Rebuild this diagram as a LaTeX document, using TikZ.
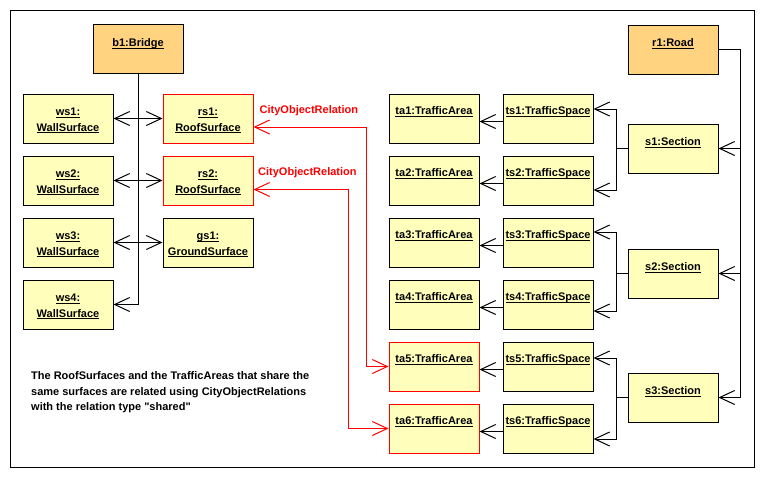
\documentclass[tikz,border=0pt]{standalone}
\usepackage{fontspec}
\setmainfont{Liberation Sans}
\newfontfamily\nomapfont{Liberation Sans}[Ligatures=ResetAll]
\usetikzlibrary{arrows.meta,calc}
\definecolor{objyellow}{RGB}{255,255,187}
\definecolor{objorange}{RGB}{255,211,128}
\definecolor{relred}{RGB}{255,0,0}
\newcommand\myul[1]{\setbox0\hbox{#1}\rlap{\rule[-2.3pt]{\wd0}{0.9pt}}\box0}
\newcommand\dq{{\nomapfont\bfseries\char34}}
\begin{document}
\begin{tikzpicture}[x=1pt,y=-1pt,
  every node/.style={font=\bfseries\fontsize{11pt}{15pt}\selectfont},
  obj/.style={draw=black, line width=1pt, fill=objyellow, minimum width=90pt, minimum height=49pt, inner sep=0pt},
  topobj/.style={obj, fill=objorange},
  redobj/.style={obj, draw=relred},
  lbl/.style={anchor=base, inner sep=0pt},
  conn/.style={draw=black, line width=1pt},
  nav/.style={conn, -{Straight Barb[length=15pt,width=14pt]}},
  bnav/.style={conn, {Straight Barb[length=15pt,width=14pt]}-{Straight Barb[length=15pt,width=14pt]}},
  rel/.style={draw=relred, line width=1pt, {Straight Barb[length=15pt,width=14pt]}-{Straight Barb[length=15pt,width=14pt]}},
  rellbl/.style={anchor=west, inner sep=0pt, text=relred},
  note/.style={anchor=base west, inner sep=0pt},
]
\useasboundingbox (0,0) rectangle (764,477);
\fill[white] (0,0) rectangle (764,477);
\draw[line width=1pt] (10.5,10.5) rectangle (754,467);

% Bridge side
\node[topobj] (b1) at (138,48.5) {};
\node[lbl] (b1t) at ([yshift=-23pt]b1.north) {\myul{b1:Bridge}};
\foreach \i in {1,2,3,4}{
  \node[obj] (ws\i) at (68,{118.5+62*(\i-1)}) {};
  \node[lbl] (ws\i a) at ([yshift=-22pt]ws\i.north) {\myul{ws\i:}};
  \node[lbl] (ws\i b) at ([yshift=-37.5pt]ws\i.north) {\myul{WallSurface}};
}
\node[redobj] (rs1) at (208,118.5) {};
\node[lbl] (rs1a) at ([yshift=-22pt]rs1.north) {\myul{rs1:}};
\node[lbl] (rs1b) at ([yshift=-37.5pt]rs1.north) {\myul{RoofSurface}};
\node[redobj] (rs2) at (208,180.5) {};
\node[lbl] (rs2a) at ([yshift=-22pt]rs2.north) {\myul{rs2:}};
\node[lbl] (rs2b) at ([yshift=-37.5pt]rs2.north) {\myul{RoofSurface}};
\node[obj] (gs1) at (208,242.5) {};
\node[lbl] (gs1a) at ([yshift=-22pt]gs1.north) {\myul{gs1:}};
\node[lbl] (gs1b) at ([yshift=-37.5pt]gs1.north) {\myul{GroundSurface}};

\draw[nav] (b1.south) |- (ws4.east);
\draw[bnav] (ws1.east) -- (rs1.west);
\draw[bnav] (ws2.east) -- (rs2.west);
\draw[bnav] (ws3.east) -- (gs1.west);

% Road side
\node[topobj] (r1) at (673,49.5) {};
\node[lbl] (r1t) at ([yshift=-22pt]r1.north) {\myul{r1:Road}};
\foreach \i in {1,...,6}{
  \ifnum\i>4
    \node[redobj] (ta\i) at (434,{118.5+62*(\i-1)}) {};
  \else
    \node[obj] (ta\i) at (434,{118.5+62*(\i-1)}) {};
  \fi
  \node[lbl] (ta\i t) at ([yshift=-21pt]ta\i.north) {\myul{ta\i:TrafficArea}};
  \node[obj] (ts\i) at (548,{118.5+62*(\i-1)}) {};
  \node[lbl] (ts\i t) at ([yshift=-21pt]ts\i.north) {\myul{ts\i:TrafficSpace}};
  \draw[nav] ([yshift=-3pt]ts\i.west) -- ([yshift=-3pt]ta\i.east);
}
\node[obj] (s1) at (673,148.5) {};
\node[lbl] (s1t) at ([yshift=-22pt]s1.north) {\myul{s1:Section}};
\node[obj] (s2) at (673,273.5) {};
\node[lbl] (s2t) at ([yshift=-22pt]s2.north) {\myul{s2:Section}};
\node[obj] (s3) at (673,397.5) {};
\node[lbl] (s3t) at ([yshift=-22pt]s3.north) {\myul{s3:Section}};

\coordinate (rbus) at (740.5,0);
\draw[nav] (r1.east) -| (rbus |- s3.east) -- (s3.east);
\draw[nav] (rbus |- s1.east) -- (s1.east);
\draw[nav] (rbus |- s2.east) -- (s2.east);

\draw[conn] (s1.west) -- ++(-11,0) coordinate (s1j);
\draw[nav] (s1j) |- ([yshift=9.5pt]ts1.east);
\draw[nav] (s1j) |- ([yshift=-9.5pt]ts2.east);
\draw[conn] (s2.west) -- ++(-11,0) coordinate (s2j);
\draw[nav] (s2j) |- ([yshift=10.5pt]ts3.east);
\draw[nav] (s2j) |- ([yshift=-6.5pt]ts4.east);
\draw[conn] (s3.west) -- ++(-11,0) coordinate (s3j);
\draw[nav] (s3j) |- ([yshift=8.5pt]ts5.east);
\draw[nav] (s3j) |- ([yshift=-10.5pt]ts6.east);

% CityObjectRelations
\coordinate (red1) at (366,0);
\coordinate (red2) at (348.5,0);
\draw[rel] ([yshift=-8.5pt]rs1.east) -| (red1 |- ta5.west) -- (ta5.west);
\draw[rel] ([yshift=-9pt]rs2.east) -| (red2 |- ta6.west) -- (ta6.west);
\node[rellbl] (rel1) at (259.5,110.5) {CityObjectRelation};
\node[rellbl] (rel2) at (258,172.5) {CityObjectRelation};

% Note
\node[note] (n1) at (31,379) {The RoofSurfaces and the TrafficAreas that share the};
\node[note] (n2) at (31,395) {same surfaces are related using CityObjectRelations};
\node[note] (n3) at (31,410) {with the relation type \dq shared\dq};
\end{tikzpicture}
\end{document}
